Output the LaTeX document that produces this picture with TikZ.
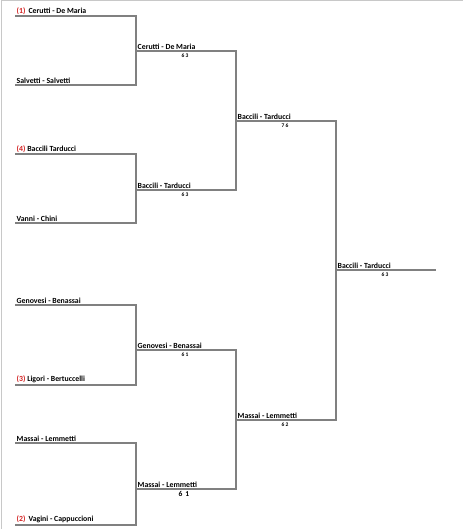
\documentclass[tikz,border=0pt]{standalone}
\usepackage{fontspec}
\setmainfont{Carlito}
\usepackage{tikz}
\definecolor{bracketgray}{RGB}{128,128,128}
\definecolor{framegray}{RGB}{200,200,200}
\definecolor{seedred}{RGB}{210,30,30}
\newcommand{\seed}[1]{\textcolor{seedred}{(#1)}}

\begin{document}
\begin{tikzpicture}[
    x=1pt, y=-1pt,
    team/.style={anchor=south west, inner sep=1.5pt, font=\fontsize{7.8}{8}\selectfont\bfseries},
    score/.style={anchor=north, inner sep=1.5pt, font=\fontsize{5.5}{6}\selectfont\bfseries},
    bigscore/.style={anchor=north, inner sep=1.5pt, font=\fontsize{7.5}{8}\selectfont\bfseries},
    bracket/.style={line width=1.8pt, draw=bracketgray},
    frame/.style={line width=1pt, draw=framegray}
]
    \useasboundingbox (0,0) rectangle (463,529);
    \draw[frame] (1,529) -- (1,1) -- (463,1);

    % Round 1
    \coordinate (p1) at (15,16);
    \coordinate (p2) at (15,85);
    \coordinate (p3) at (15,154);
    \coordinate (p4) at (15,223);
    \coordinate (p5) at (15,305);
    \coordinate (p6) at (15,385);
    \coordinate (p7) at (15,443);
    \coordinate (p8) at (15,525);

    % Round 2
    \coordinate (q1) at (136,51);
    \coordinate (q2) at (136,190);
    \coordinate (q3) at (136,350);
    \coordinate (q4) at (136,489);

    % Round 3
    \coordinate (s1) at (236,121);
    \coordinate (s2) at (236,420);

    % Final
    \coordinate (f) at (336,270);
    \coordinate (fend) at (436,270);

    \node[team] (t1) at (p1) {\seed{1}\, Cerutti - De Maria};
    \node[team] (t2) at (p2) {Salvetti - Salvetti};
    \node[team] (t3) at (p3) {\seed{4} Baccili Tarducci};
    \node[team] (t4) at (p4) {Vanni - Chini};
    \node[team] (t5) at (p5) {Genovesi - Benassai};
    \node[team] (t6) at (p6) {\seed{3} Ligori - Bertuccelli};
    \node[team] (t7) at (p7) {Massai - Lemmetti};
    \node[team] (t8) at (p8) {\seed{2}\, Vagini - Cappuccioni};

    \node[team] (w1) at (q1) {Cerutti - De Maria};
    \node[team] (w2) at (q2) {Baccili - Tarducci};
    \node[team] (w3) at (q3) {Genovesi - Benassai};
    \node[team] (w4) at (q4) {Massai - Lemmetti};

    \node[team] (x1) at (s1) {Baccili - Tarducci};
    \node[team] (x2) at (s2) {Massai - Lemmetti};

    \node[team] (champ) at (f) {Baccili - Tarducci};

    % Scores
    \node[score] (sc1) at (185,52) {6 3};
    \node[score] (sc2) at (185,191) {6 3};
    \node[score] (sc3) at (185,351) {6 1};
    \node[bigscore] (sc4) at (184,490) {6\, 1};
    \node[score] (sc5) at (285,122) {7 6};
    \node[score] (sc6) at (285,421) {6 2};
    \node[score] (sc7) at (385,271) {6 3};

    % Brackets
    \draw[bracket] (p1) -| (p2 -| q1) -- (p2);
    \draw[bracket] (p3) -| (p4 -| q2) -- (p4);
    \draw[bracket] (p5) -| (p6 -| q3) -- (p6);
    \draw[bracket] (p7) -| (p8 -| q4) -- (p8);
    \draw[bracket] (q1) -| (q2 -| s1) -- (q2);
    \draw[bracket] (q3) -| (q4 -| s2) -- (q4);
    \draw[bracket] (s1) -| (s2 -| f) -- (s2);
    \draw[bracket] (f) -- (fend);
\end{tikzpicture}
\end{document}
